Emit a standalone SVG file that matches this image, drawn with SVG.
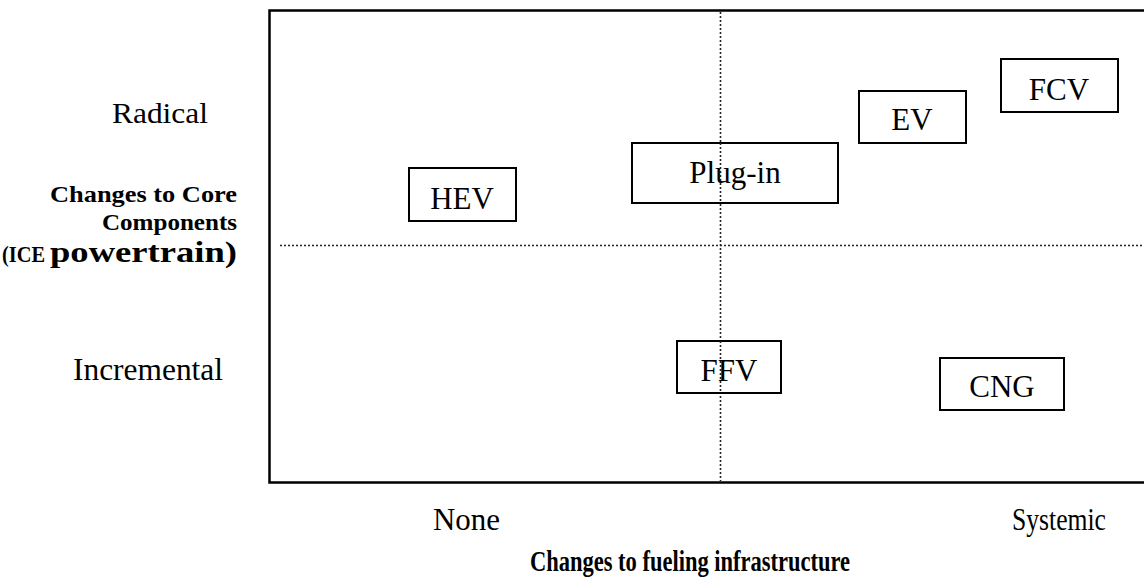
<svg xmlns="http://www.w3.org/2000/svg" width="1144" height="583" viewBox="0 0 1144 583">
<style>
.lbl{font-family:"Liberation Serif","Times New Roman",serif;fill:#000}
.b{font-weight:bold}
.node rect{fill:#fff;stroke:#000;stroke-width:2}
.node text{font-family:"Liberation Serif","Times New Roman",serif;font-size:31px;text-anchor:middle;fill:#000}
.dot{stroke:#222;stroke-width:1.6;stroke-dasharray:2 2;fill:none}
</style>
<rect width="1144" height="583" fill="#fff"/>
<g id="frame">
<path d="M1144 10.5 H269.5 V482.5 H1144" fill="none" stroke="#000" stroke-width="2.5"/>
</g>
<g id="connectors">
<line class="dot" x1="280" y1="245.5" x2="1144" y2="245.5"/>
<line class="dot" x1="720.5" y1="12" x2="720.5" y2="481"/>
</g>
<g id="node-hev" class="node"><rect x="409" y="168" width="107" height="53"/><text x="462" y="209">HEV</text></g>
<g id="node-plugin" class="node"><rect x="632" y="143" width="206" height="60"/><text x="735" y="183">Plug-in</text></g>
<g id="node-ev" class="node"><rect x="859" y="91" width="107" height="52"/><text x="912" y="130">EV</text></g>
<g id="node-fcv" class="node"><rect x="1001" y="59" width="117" height="53"/><text x="1059" y="100">FCV</text></g>
<g id="node-ffv" class="node"><rect x="677" y="341" width="104" height="52"/><text x="729" y="381">FFV</text></g>
<g id="node-cng" class="node"><rect x="940" y="358" width="124" height="52"/><text x="1002" y="397">CNG</text></g>
<g id="connectors-overlay">
<line class="dot" x1="720.5" y1="143" x2="720.5" y2="203"/>
<line class="dot" x1="720.5" y1="341" x2="720.5" y2="393"/>
</g>
<g id="labels">
<text class="lbl" x="112" y="123" font-size="30" textLength="96" lengthAdjust="spacingAndGlyphs">Radical</text>
<text class="lbl" x="73" y="380" font-size="31" textLength="150" lengthAdjust="spacingAndGlyphs">Incremental</text>
<text class="lbl b" x="50" y="202" font-size="24" textLength="187" lengthAdjust="spacingAndGlyphs">Changes to Core</text>
<text class="lbl b" x="102" y="230" font-size="24" textLength="135" lengthAdjust="spacingAndGlyphs">Components</text>
<text class="lbl b" x="2" y="262" font-size="24" textLength="43" lengthAdjust="spacingAndGlyphs">(ICE</text>
<text class="lbl b" x="50" y="262" font-size="29" textLength="187" lengthAdjust="spacingAndGlyphs">powertrain)</text>
<text class="lbl" x="433" y="530" font-size="31" textLength="67" lengthAdjust="spacingAndGlyphs">None</text>
<text class="lbl" x="1012" y="530" font-size="31" textLength="94" lengthAdjust="spacingAndGlyphs">Systemic</text>
<text class="lbl b" x="530" y="571" font-size="30" textLength="320" lengthAdjust="spacingAndGlyphs">Changes to fueling infrastructure</text>
</g>
</svg>
